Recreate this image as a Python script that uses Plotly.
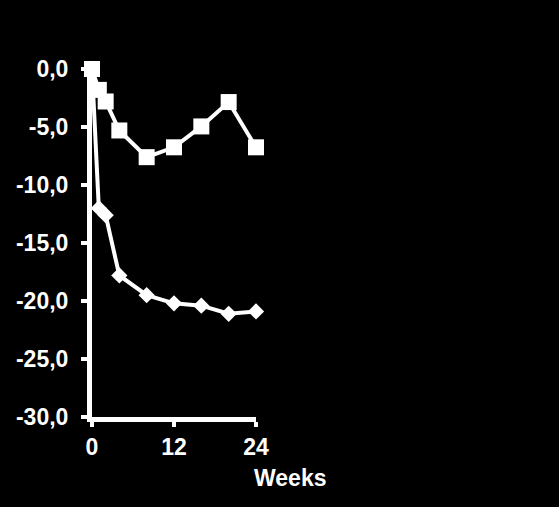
import plotly.graph_objects as go

weeks = [0, 1, 2, 4, 8, 12, 16, 20, 24]
squares = [0.0, -1.8, -2.8, -5.3, -7.6, -6.75, -4.95, -2.85, -6.75]
diamonds = [0.0, -12.0, -12.6, -17.8, -19.5, -20.2, -20.4, -21.1, -20.9]

y_tickvals = [0, -5, -10, -15, -20, -25, -30]
y_ticktext = ["0,0", "-5,0", "-10,0", "-15,0", "-20,0", "-25,0", "-30,0"]
x_tickvals = [0, 12, 24]
x_ticktext = ["0", "12", "24"]
x_title = "Weeks"

font = dict(family="Liberation Sans, Arial, sans-serif", size=23, color="white", weight="bold")

fig = go.Figure()
fig.add_trace(go.Scatter(
    x=weeks, y=diamonds, mode="lines+markers",
    line=dict(color="white", width=4),
    marker=dict(symbol="diamond", size=12.5, color="white"),
    cliponaxis=False, showlegend=False))
fig.add_trace(go.Scatter(
    x=weeks, y=squares, mode="lines+markers",
    line=dict(color="white", width=4),
    marker=dict(symbol="square", size=16, color="white"),
    cliponaxis=False, showlegend=False))

fig.update_layout(
    width=559, height=507,
    paper_bgcolor="black", plot_bgcolor="black",
    margin=dict(l=92, r=303, t=69, b=90),
    font=font,
    xaxis=dict(range=[0, 24], tickvals=x_tickvals, ticktext=x_ticktext,
               showgrid=False, zeroline=False, showline=True,
               linecolor="white", linewidth=5, ticks="outside",
               ticklen=5, tickwidth=4, tickcolor="white",
               tickfont=font, fixedrange=True),
    yaxis=dict(range=[-30, 0], tickvals=y_tickvals, ticktext=y_ticktext,
               showgrid=False, zeroline=False, showline=True,
               linecolor="white", linewidth=5, ticks="outside",
               ticklen=6, tickwidth=4, tickcolor="white",
               tickfont=font, ticklabelstandoff=8, fixedrange=True),
    annotations=[dict(text=x_title, xref="paper", yref="paper",
                      x=1.21, y=-0.175, xanchor="center", yanchor="middle",
                      showarrow=False, font=font)],
)

fig.write_html(
    "out.html",
    config={"displayModeBar": False},
    post_script="document.body.style.margin='0';document.body.style.background='black';",
)
